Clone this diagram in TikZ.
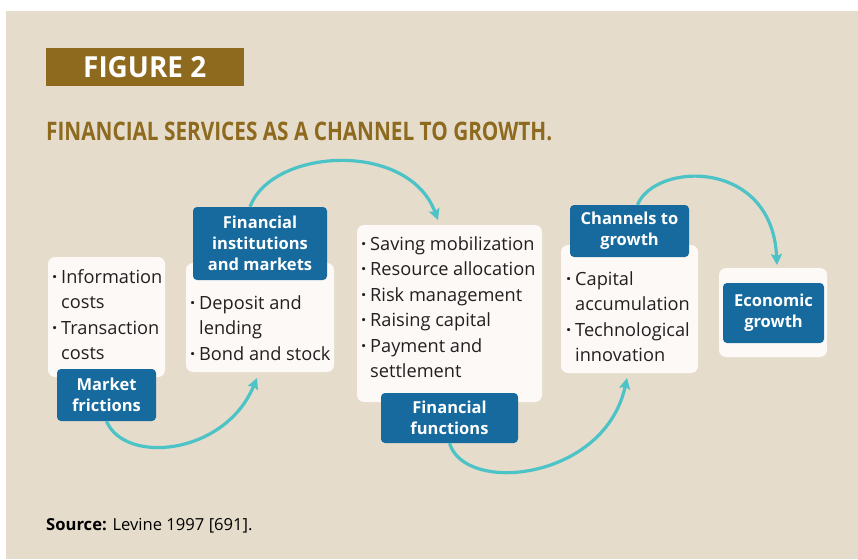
\documentclass[tikz,border=0pt]{standalone}
\usepackage{graphicx}
\usepackage{fontspec}
\setmainfont{Open Sans}
\usetikzlibrary{arrows.meta}
\definecolor{bg}{HTML}{E5DCCB}
\definecolor{boxw}{HTML}{FCF9F6}
\definecolor{lblue}{HTML}{176A9E}
\definecolor{gold}{HTML}{8E6A1F}
\definecolor{tealarr}{HTML}{4CC3C7}
\definecolor{txt}{HTML}{231F20}
\newcommand\itm{\makebox[9pt][l]{\bfseries ·}}
\newcommand\ind{\hspace*{9pt}}
\newcommand\blist[1]{\parbox[t]{220pt}{\raggedright #1}}
\tikzset{
  wbox/.style={fill=boxw, rounded corners=7pt, inner sep=0pt},
  lbl/.style={fill=lblue, rounded corners=4pt, inner sep=0pt, text=white,
    font=\fontsize{16.5}{21}\selectfont\bfseries, align=center},
  btxt/.style={anchor=base west, inner sep=0pt, text=txt,
    font=\fontsize{18.2}{25.5}\selectfont},
  arr/.style={draw=tealarr, line width=3.2pt,
    -{Stealth[length=11pt,width=11pt,inset=2pt]}},
}
\begin{document}
\begin{tikzpicture}[x=1pt,y=-1pt]
\useasboundingbox (0,0) rectangle (858,559);
\fill[white] (0,0) rectangle (858,559);
\fill[bg] (6,11) rectangle (858,559);

% header
\node[fill=gold, minimum width=198pt, minimum height=38pt, inner sep=0pt] (figbox) at (145,67) {};
\node[anchor=base west, inner sep=0pt, text=white] (figtxt) at (83,78) {\resizebox{123pt}{21pt}{\bfseries FIGURE 2}};
\node[anchor=base west, inner sep=0pt, text=gold] (title) at (46,140) {\resizebox{506pt}{18.5pt}{\bfseries FINANCIAL SERVICES AS A CHANNEL TO GROWTH.}};

% arrow end points
\coordinate (t1) at (257,378);
\coordinate (t2) at (438,220);
\coordinate (t3) at (627,378);
\coordinate (t4) at (777,265);

% white boxes
\node[wbox, minimum width=117pt, minimum height=120pt] (boxA) at (106.5,317) {};
\node[wbox, minimum width=148pt, minimum height=109pt] (boxB) at (260,317.5) {};
\node[wbox, minimum width=185pt, minimum height=177pt] (boxC) at (449.5,313.5) {};
\node[wbox, minimum width=137pt, minimum height=128pt] (boxD) at (629.5,309) {};
\node[wbox, minimum width=108pt, minimum height=89pt] (boxE) at (773,312.5) {};

% labels
\node[lbl, minimum width=99pt, minimum height=52pt] (mf) at (106.5,395) {Market\\frictions};
\node[lbl, minimum width=134pt, minimum height=73pt] (fi) at (260,243.5) {Financial\\institutions\\and markets};
\node[lbl, minimum width=137pt, minimum height=50pt] (ff) at (449.5,418) {Financial\\functions};
\node[lbl, minimum width=119pt, minimum height=52pt] (cg) at (629.5,231) {Channels to\\growth};
\node[lbl, minimum width=101pt, minimum height=60pt] (eg) at (773.5,313) {Economic\\growth};

% arrows
\draw[arr] (mf.south) .. controls (125,465) and (225,455) .. (t1);
\draw[arr] ([xshift=-10pt]fi.north) .. controls (272,148) and (408,140) .. (t2);
\draw[arr] (ff.south) .. controls (465,495) and (605,480) .. (t3);
\draw[arr] ([xshift=8pt]cg.north) .. controls (655,162) and (772,158) .. (t4);

% bullet texts
\node[btxt] (txtA) at (52,283) {\blist{\itm Information\\\ind costs\\\itm Transaction\\\ind costs}};
\node[btxt] (txtB) at (190,309) {\blist{\itm Deposit and\\\ind lending\\\itm Bond and stock}};
\node[btxt] (txtC) at (361,250) {\blist{\itm Saving mobilization\\\itm Resource allocation\\\itm Risk management\\\itm Raising capital\\\itm Payment and\\\ind settlement}};
\node[btxt] (txtD) at (566,285) {\blist{\itm Capital\\\ind accumulation\\\itm Technological\\\ind innovation}};

% source
\node[anchor=base west, inner sep=0pt, text=black, font=\fontsize{16.6}{19}\selectfont] (src) at (46,530) {\textbf{Source:} Levine 1997 [691].};
\end{tikzpicture}
\end{document}
